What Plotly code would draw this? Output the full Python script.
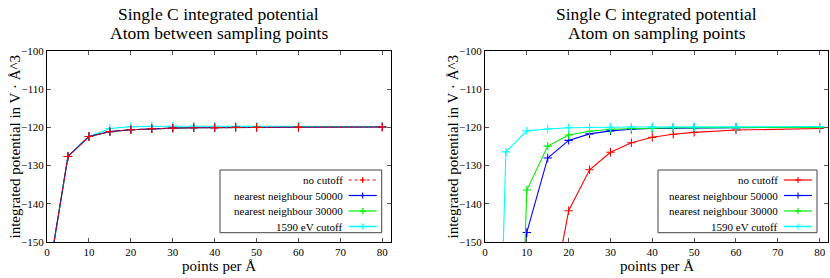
import plotly.graph_objects as go

# ---------------- data ----------------
x_points = [1, 5, 10, 15, 20, 25, 30, 35, 40, 45, 50, 60, 80]

series_names = ["no cutoff", "nearest neighbour 50000", "nearest neighbour 30000", "1590 eV cutoff"]
series_colors = ["#ff0000", "#0000ff", "#00ee00", "#00ffff"]

# Atom between sampling points (left)
between_no_cutoff = [-154.6, -127.6, -122.4, -121.1, -120.6, -120.35, -120.2, -120.1, -120.05, -120.0, -120.0, -119.95, -119.9]
between_nn50000 = [-154.6, -127.6, -122.4, -121.1, -120.6, -120.35, -120.2, -120.1, -120.05, -120.0, -120.0, -119.95, -119.9]
between_nn30000 = [-154.6, -127.6, -122.4, -121.1, -120.6, -120.35, -120.2, -120.1, -120.05, -120.0, -120.0, -119.95, -119.9]
between_cutoff = [-154.6, -127.6, -122.4, -120.3, -119.8, -119.7, -119.7, -119.7, -119.7, -119.75, -119.75, -119.75, -119.8]

# Atom on sampling points (right)
on_no_cutoff = [-600.0, -400.0, -250.0, -171.0, -141.8, -131.1, -126.5, -124.0, -122.6, -121.8, -121.3, -120.7, -120.3]
on_nn50000 = [-400.0, -210.0, -147.5, -128.0, -123.4, -121.7, -120.9, -120.5, -120.3, -120.2, -120.1, -120.05, -120.0]
on_nn30000 = [-450.0, -300.0, -136.4, -124.9, -122.0, -121.0, -120.5, -120.3, -120.2, -120.1, -120.05, -120.0, -120.0]
on_cutoff = [-280.0, -126.4, -120.9, -120.4, -120.1, -120.0, -119.95, -119.9, -119.9, -119.85, -119.85, -119.85, -119.8]

titles = [["Single C integrated potential", "Atom between sampling points"],
          ["Single C integrated potential", "Atom on sampling points"]]
x_title = "points per Å"
y_title = "integrated potential in V · Å^3"
x_ticks = [0, 10, 20, 30, 40, 50, 60, 70, 80]
y_ticks = [-150, -140, -130, -120, -110, -100]

# ---------------- layout constants ----------------
W, H = 830, 278
# plot area in page pixels: x 47..828 (two panels), y 51..242
ML, MR, MT, MB = 47, 2, 51, 36
PW, PH = W - ML - MR, H - MT - MB
FONT = "Liberation Serif, Times New Roman, serif"

def px(xp):
    """page pixel x -> paper fraction"""
    return (xp - ML) / PW

def py(yp):
    """page pixel y -> paper fraction"""
    return (H - MB - yp) / PH

left_dom = [0, px(390.7)]
right_dom = [px(485), 1.0]

fig = go.Figure()

def add_series(xa, ya, values, idx, dash="solid"):
    fig.add_trace(go.Scatter(
        x=x_points, y=values, xaxis=xa, yaxis=ya, mode="lines+markers",
        name=series_names[idx], showlegend=False,
        line=dict(color=series_colors[idx], width=1.1, dash=dash),
        marker=dict(symbol="cross-thin", size=6, line=dict(color=series_colors[idx], width=1.1)),
    ))

# left: draw order so red dashed is on top
add_series("x", "y", between_cutoff, 3)
add_series("x", "y", between_nn30000, 2)
add_series("x", "y", between_nn50000, 1)
add_series("x", "y", between_no_cutoff, 0, dash="3px,2px")

# right
add_series("x2", "y2", on_no_cutoff, 0)
add_series("x2", "y2", on_nn50000, 1)
add_series("x2", "y2", on_nn30000, 2)
add_series("x2", "y2", on_cutoff, 3)

axis_common = dict(showline=True, linecolor="black", linewidth=1, mirror="ticks",
                   ticks="inside", ticklen=4, tickcolor="#555", tickwidth=1,
                   showgrid=False, zeroline=False,
                   tickfont=dict(family=FONT, size=11, color="black"))

fig.update_layout(
    width=W, height=H,
    margin=dict(l=ML, r=MR, t=MT, b=MB),
    paper_bgcolor="white", plot_bgcolor="white",
    showlegend=False,
    xaxis=dict(domain=left_dom, range=[0, 82], tickvals=x_ticks, anchor="y", **axis_common),
    yaxis=dict(domain=[0, 1], range=[-150, -100], tickvals=y_ticks, anchor="x", **axis_common),
    xaxis2=dict(domain=right_dom, range=[0, 82], tickvals=x_ticks, anchor="y2", **axis_common),
    yaxis2=dict(domain=[0, 1], range=[-150, -100], tickvals=y_ticks, anchor="x2", **axis_common),
)

annotations = []
shapes = []

panels = [
    dict(dom=left_dom, ytitle_x=14, legend=(220, 381.7), red_dash="dot"),
    dict(dom=right_dom, ytitle_x=452, legend=(658, 817), red_dash="solid"),
]

for i, p in enumerate(panels):
    cx = (p["dom"][0] + p["dom"][1]) / 2
    for line_text, ly in zip(titles[i], (14.5, 33)):
        annotations.append(dict(text=line_text, x=cx, y=py(ly), xref="paper", yref="paper",
                                showarrow=False, xanchor="center", yanchor="middle",
                                font=dict(family=FONT, size=17.5, color="black")))
    annotations.append(dict(text=x_title, x=cx, y=py(266), xref="paper", yref="paper",
                            showarrow=False, xanchor="center", yanchor="middle",
                            font=dict(family=FONT, size=15, color="black")))
    annotations.append(dict(text=y_title, x=px(p["ytitle_x"]), y=py(146.5), xref="paper", yref="paper",
                            showarrow=False, xanchor="center", yanchor="middle", textangle=-90,
                            font=dict(family=FONT, size=15, color="black")))
    # legend box
    bx0, bx1 = p["legend"]
    shapes.append(dict(type="rect", xref="paper", yref="paper",
                       x0=px(bx0), x1=px(bx1), y0=py(232.7), y1=py(170),
                       line=dict(color="#444", width=1), fillcolor="white", layer="above"))
    row_y = [180, 195.5, 211, 226.5]
    for k in range(4):
        yk = row_y[k]
        annotations.append(dict(text=series_names[k], x=px(bx1 - 38), y=py(yk), xref="paper", yref="paper",
                                showarrow=False, xanchor="right", yanchor="middle", borderpad=0,
                                font=dict(family=FONT, size=11, color="black")))
        dash = p["red_dash"] if k == 0 else "solid"
        sx0, sx1 = bx1 - 33, bx1 - 5
        shapes.append(dict(type="line", xref="paper", yref="paper",
                           x0=px(sx0), x1=px(sx1), y0=py(yk), y1=py(yk), layer="above",
                           line=dict(color=series_colors[k], width=1.5 if k == 3 else 1.2,
                                     dash="dot" if dash == "dot" else "solid")))
        mx = px((sx0 + sx1) / 2)
        shapes.append(dict(type="line", xref="paper", yref="paper", layer="above",
                           xsizemode="pixel", xanchor=mx, x0=-3, x1=3, y0=py(yk), y1=py(yk),
                           line=dict(color=series_colors[k], width=1.1)))
        shapes.append(dict(type="line", xref="paper", yref="paper", layer="above",
                           x0=mx, x1=mx, ysizemode="pixel", yanchor=py(yk), y0=-3, y1=3,
                           line=dict(color=series_colors[k], width=1.1)))

fig.update_layout(annotations=annotations, shapes=shapes)
fig.write_html("out.html",
               config={"displayModeBar": False},
               post_script="document.body.style.margin='0';document.body.style.padding='0';")
